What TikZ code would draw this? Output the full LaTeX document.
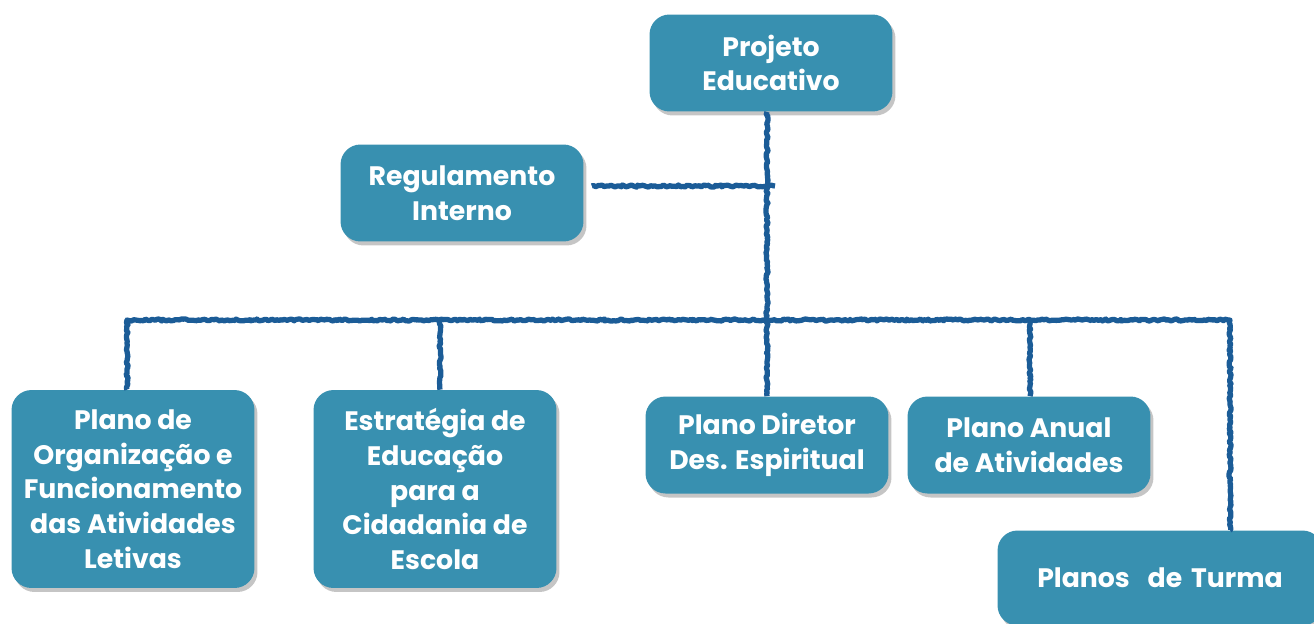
\documentclass[tikz,border=0pt]{standalone}
\usepackage{fontspec}
\setmainfont{Poppins}
\usetikzlibrary{positioning,shadows,decorations.pathmorphing}
\definecolor{boxteal}{HTML}{3890B0}
\definecolor{linkblue}{HTML}{1B5C97}
\begin{document}
\begin{tikzpicture}[x=0.02cm,y=-0.02cm,
	box/.style={draw=none,fill=boxteal,rounded corners=0.4cm,text=white,
		font=\fontsize{15.2}{19.8}\selectfont\bfseries,align=center,
		minimum width=4.86cm,minimum height=1.94cm,inner sep=2pt,
		drop shadow={shadow xshift=0.06cm,shadow yshift=-0.08cm,fill=black!45,opacity=0.5}},
	link/.style={draw=linkblue,line width=3pt,line join=round,
		decorate,decoration={random steps,segment length=1.2pt,amplitude=0.6pt}}]
	\useasboundingbox (0,0) rectangle (1314,623);
	\clip (0,0) rectangle (1314,623);
	% boxes
	\node[box] (pe) at (771,63) {Projeto\\Educativo};
	\node[box] (ri) at (462,193) {Regulamento\\Interno};
	\node[box,minimum height=3.96cm] (po) at (133,489) {Plano de\\Organização e\\Funcionamento\\das Atividades\\Letivas};
	\node[box,minimum height=3.96cm] (es) at (435,489) {Estratégia de\\Educação\\para a\\Cidadania de\\Escola};
	\node[box] (pd) at (767,445) {Plano Diretor\\Des. Espiritual};
	\node[box] (pa) at (1029,445) {Plano Anual\\de Atividades};
	\node[box,minimum width=6.5cm,minimum height=1.9cm,text width=6.1cm] (pt) at (1160,578) {Planos~ de Turma};
	% connectors
	\coordinate (busL) at (127,320);
	\coordinate (busR) at (1230,320);
	\coordinate (busE) at (440,320);
	\coordinate (busA) at (1030,320);
	\draw[link] (pe.south -| pd.north) -- (pd.north);
	\draw[link] ([shift={(8,-7)}]ri.east) -- ([shift={(8,-7)}]ri.east -| pd.north);
	\draw[link] (busL |- po.north) -- (busL) -- (busR) -- (busR |- pt.north);
	\draw[link] (busE) -- (busE |- es.north);
	\draw[link] (busA) -- (busA |- pa.north);
\end{tikzpicture}
\end{document}
